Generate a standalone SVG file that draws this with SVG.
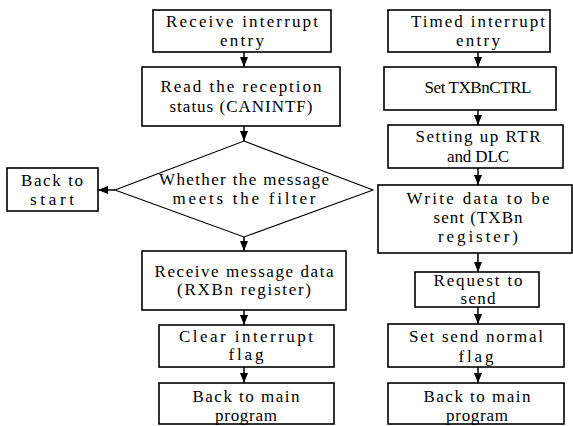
<svg xmlns="http://www.w3.org/2000/svg" width="573" height="426" viewBox="0 0 573 426">
<style>
.box{fill:#fff;stroke:#000;stroke-width:1.6}
.dia{fill:#fff;stroke:#000;stroke-width:1.1}
.t{font-family:"Liberation Serif","DejaVu Serif",serif;font-size:17px;fill:#000;text-anchor:middle}
.c{stroke:#000;stroke-width:1.5;fill:none;marker-end:url(#ah)}
</style>
<defs>
<marker id="ah" markerUnits="userSpaceOnUse" markerWidth="10" markerHeight="10" viewBox="0 0 10 10" refX="10" refY="5" orient="auto">
<path d="M0,1 L10,5 L0,9 Z" fill="#000"/>
</marker>
</defs>
<rect width="573" height="426" fill="#fff"/>
<g id="connectors">
<line class="c" x1="244" y1="52" x2="244" y2="67"/>
<line class="c" x1="244" y1="126" x2="244" y2="141"/>
<line class="c" x1="244" y1="237" x2="244" y2="251"/>
<line class="c" x1="244" y1="310" x2="244" y2="325"/>
<line class="c" x1="244" y1="367" x2="244" y2="383"/>
<line class="c" x1="115" y1="190" x2="98" y2="190"/>
<line class="c" x1="478" y1="52" x2="478" y2="67"/>
<line class="c" x1="478" y1="110" x2="478" y2="125"/>
<line class="c" x1="478" y1="168" x2="478" y2="185"/>
<line class="c" x1="478" y1="253" x2="478" y2="272"/>
<line class="c" x1="478" y1="307" x2="478" y2="324"/>
<line class="c" x1="478" y1="367" x2="478" y2="383"/>
</g>
<g id="recv-entry"><rect class="box" x="153" y="10" width="178" height="42"/>
<text class="t" x="242" y="27" textLength="152" lengthAdjust="spacing">Receive interrupt</text>
<text class="t" x="242" y="46" textLength="44" lengthAdjust="spacing">entry</text></g>
<g id="read-status"><rect class="box" x="142" y="67" width="198" height="59"/>
<text class="t" x="241" y="92" textLength="161" lengthAdjust="spacing">Read the reception</text>
<text class="t" x="241" y="112" textLength="143" lengthAdjust="spacing">status (CANINTF)</text></g>
<g id="filter"><polygon class="dia" points="244,141 373,190 244,237 115,190"/>
<text class="t" x="244" y="185" textLength="170" lengthAdjust="spacing">Whether the message</text>
<text class="t" x="244" y="204" textLength="143" lengthAdjust="spacing">meets the filter</text></g>
<g id="back-start"><rect class="box" x="7" y="168" width="91" height="43"/>
<text class="t" x="52" y="186" textLength="62" lengthAdjust="spacing">Back to</text>
<text class="t" x="52" y="205" textLength="44" lengthAdjust="spacing">start</text></g>
<g id="recv-data"><rect class="box" x="142" y="251" width="204" height="59"/>
<text class="t" x="244" y="277" textLength="179" lengthAdjust="spacing">Receive message data</text>
<text class="t" x="244" y="295" textLength="134" lengthAdjust="spacing">(RXBn register)</text></g>
<g id="clear-flag"><rect class="box" x="159" y="325" width="175" height="42"/>
<text class="t" x="246" y="342" textLength="134" lengthAdjust="spacing">Clear interrupt</text>
<text class="t" x="246" y="360" textLength="35" lengthAdjust="spacing">flag</text></g>
<g id="back-main-l"><rect class="box" x="159" y="383" width="175" height="41"/>
<text class="t" x="246" y="402" textLength="107" lengthAdjust="spacing">Back to main</text>
<text class="t" x="246" y="421" textLength="62" lengthAdjust="spacing">program</text></g>
<g id="timed-entry"><rect class="box" x="388" y="10" width="162" height="42"/>
<text class="t" x="478" y="27" textLength="134" lengthAdjust="spacing">Timed interrupt</text>
<text class="t" x="478" y="46" textLength="44" lengthAdjust="spacing">entry</text></g>
<g id="set-ctrl"><rect class="box" x="384" y="67" width="172" height="43"/>
<text class="t" x="478" y="93" textLength="107" lengthAdjust="spacing">Set TXBnCTRL</text></g>
<g id="set-rtr"><rect class="box" x="388" y="125" width="175" height="43"/>
<text class="t" x="478" y="142" textLength="125" lengthAdjust="spacing">Setting up RTR</text>
<text class="t" x="478" y="162" textLength="62" lengthAdjust="spacing">and DLC</text></g>
<g id="write-data"><rect class="box" x="378" y="185" width="194" height="68"/>
<text class="t" x="478" y="204" textLength="143" lengthAdjust="spacing">Write data to be</text>
<text class="t" x="478" y="223" textLength="89" lengthAdjust="spacing">sent (TXBn</text>
<text class="t" x="478" y="242" textLength="80" lengthAdjust="spacing">register)</text></g>
<g id="request"><rect class="box" x="415" y="272" width="124" height="35"/>
<text class="t" x="478" y="286" textLength="89" lengthAdjust="spacing">Request to</text>
<text class="t" x="478" y="304" textLength="35" lengthAdjust="spacing">send</text></g>
<g id="send-flag"><rect class="box" x="388" y="324" width="176" height="43"/>
<text class="t" x="476" y="342" textLength="134" lengthAdjust="spacing">Set send normal</text>
<text class="t" x="476" y="362" textLength="35" lengthAdjust="spacing">flag</text></g>
<g id="back-main-r"><rect class="box" x="388" y="383" width="176" height="41"/>
<text class="t" x="477" y="402" textLength="107" lengthAdjust="spacing">Back to main</text>
<text class="t" x="477" y="421" textLength="62" lengthAdjust="spacing">program</text></g>
</svg>
